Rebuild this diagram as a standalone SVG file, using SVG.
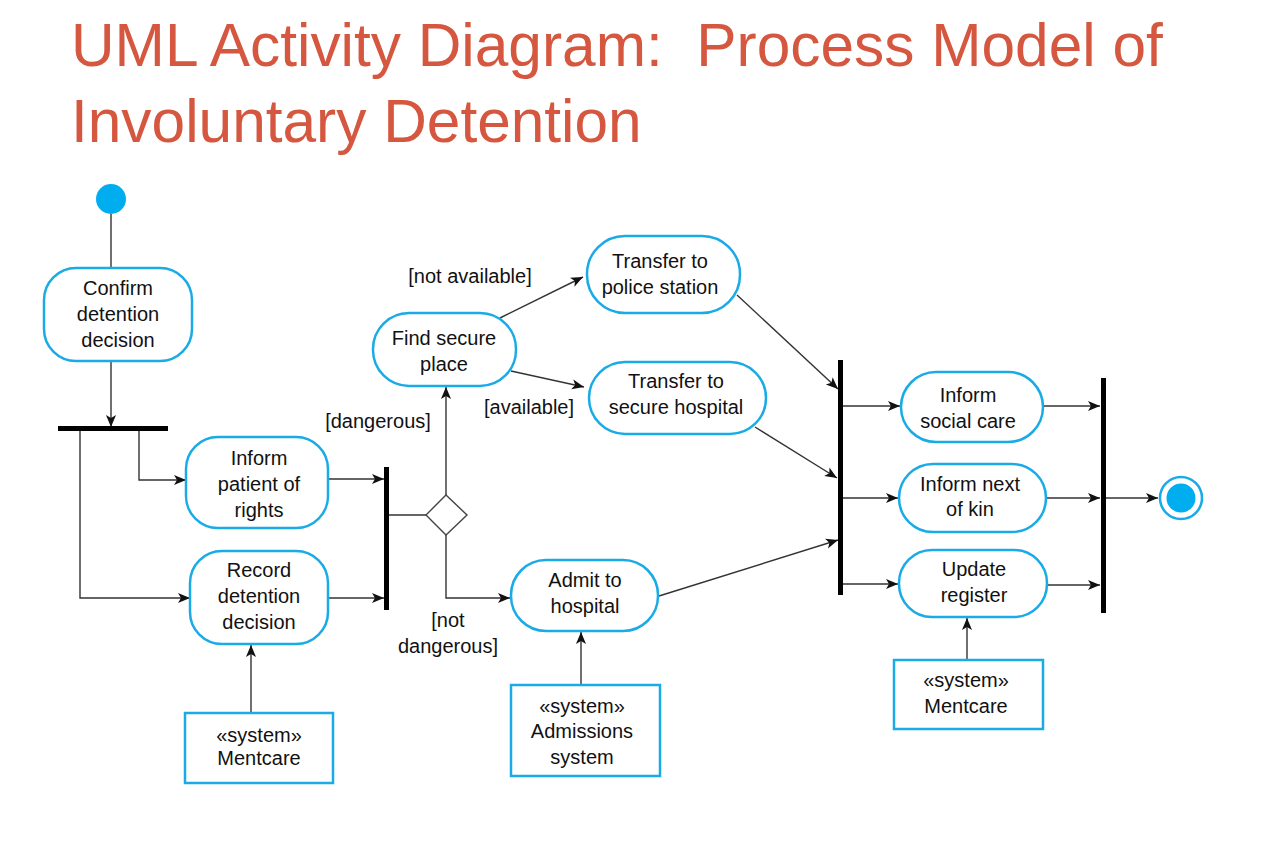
<svg xmlns="http://www.w3.org/2000/svg" width="1264" height="864" viewBox="0 0 1264 864">
<defs>
<marker id="arr" viewBox="0 0 10 10" refX="10" refY="5" markerWidth="12" markerHeight="12" markerUnits="userSpaceOnUse" orient="auto">
<path d="M0,0.8 L10,5 L0,9.2 L2.5,5 z" fill="#111"/>
</marker>
<style>
.title{font-family:"Liberation Sans",Arial,sans-serif;font-size:60.4px;fill:#D5573F;white-space:pre}
.act{fill:#fff;stroke:#1AABE6;stroke-width:2.5}
.t{font-family:"Liberation Sans",Arial,sans-serif;font-size:20px;fill:#111;text-anchor:middle}
.c{fill:none;stroke:#333;stroke-width:1.4}
.ca{fill:none;stroke:#333;stroke-width:1.4;marker-end:url(#arr)}
.bar{fill:#000}
</style>
</defs>
<rect width="1264" height="864" fill="#fff"/>
<text class="title" x="71" y="66">UML Activity Diagram:  Process Model of</text>
<text class="title" x="71" y="142">Involuntary Detention</text>

<g id="connectors">
<line class="c" x1="111" y1="214" x2="111" y2="268"/>
<line class="ca" x1="111" y1="361" x2="111" y2="427"/>
<polyline class="ca" points="139,431 139,480 186,480"/>
<polyline class="ca" points="80,431 80,598 190,598"/>
<line class="ca" x1="251" y1="713" x2="251" y2="645"/>
<line class="ca" x1="328" y1="479" x2="384" y2="479"/>
<line class="ca" x1="328" y1="598" x2="384" y2="598"/>
<line class="c" x1="388" y1="515" x2="426" y2="515"/>
<line class="ca" x1="446" y1="495" x2="446" y2="387"/>
<polyline class="ca" points="446,535 446,598 510,598"/>
<line class="ca" x1="581" y1="685" x2="581" y2="632"/>
<line class="ca" x1="500" y1="318" x2="583" y2="277"/>
<line class="ca" x1="511" y1="371" x2="584" y2="387"/>
<line class="ca" x1="737" y1="295" x2="838" y2="389"/>
<line class="ca" x1="755" y1="427" x2="837" y2="478"/>
<line class="ca" x1="659" y1="596" x2="838" y2="540"/>
<line class="ca" x1="842" y1="406" x2="900" y2="406"/>
<line class="ca" x1="842" y1="498" x2="898" y2="498"/>
<line class="ca" x1="842" y1="584" x2="898" y2="584"/>
<line class="ca" x1="1043" y1="406" x2="1100" y2="406"/>
<line class="ca" x1="1046" y1="498" x2="1100" y2="498"/>
<line class="ca" x1="1047" y1="585" x2="1100" y2="585"/>
<line class="ca" x1="1105" y1="498" x2="1158" y2="498"/>
<line class="ca" x1="967" y1="660" x2="967" y2="618"/>
</g>

<g id="start"><circle cx="111" cy="199" r="15" fill="#00AEEF"/></g>

<g id="confirm">
<rect class="act" x="44" y="268" width="148" height="93" rx="32"/>
<text class="t" x="118" y="295">Confirm</text>
<text class="t" x="118" y="321">detention</text>
<text class="t" x="118" y="347">decision</text>
</g>

<g id="fork1"><rect class="bar" x="58" y="426" width="110" height="5"/></g>

<g id="inform-rights">
<rect class="act" x="186" y="437" width="142" height="91" rx="32"/>
<text class="t" x="259" y="465">Inform</text>
<text class="t" x="259" y="491">patient of</text>
<text class="t" x="259" y="517">rights</text>
</g>

<g id="record">
<rect class="act" x="190" y="551" width="138" height="93" rx="32"/>
<text class="t" x="259" y="577">Record</text>
<text class="t" x="259" y="603">detention</text>
<text class="t" x="259" y="629">decision</text>
</g>

<g id="mentcare1">
<rect class="act" x="185" y="713" width="148" height="70"/>
<text class="t" x="259" y="742">«system»</text>
<text class="t" x="259" y="765">Mentcare</text>
</g>

<g id="join1"><rect class="bar" x="384" y="467" width="5" height="143"/></g>

<g id="decision"><polygon points="446,495 467,515 446,535 426,515" fill="#fff" stroke="#444" stroke-width="1.4"/></g>

<g id="labels">
<text class="t" x="378" y="428">[dangerous]</text>
<text class="t" x="448" y="627">[not</text>
<text class="t" x="448" y="653">dangerous]</text>
<text class="t" x="470" y="283">[not available]</text>
<text class="t" x="529" y="414">[available]</text>
</g>

<g id="find">
<rect class="act" x="373" y="313" width="143" height="73" rx="36"/>
<text class="t" x="444" y="345">Find secure</text>
<text class="t" x="444" y="371">place</text>
</g>

<g id="police">
<rect class="act" x="587" y="236" width="153" height="77" rx="38"/>
<text class="t" x="660" y="268">Transfer to</text>
<text class="t" x="660" y="294">police station</text>
</g>

<g id="secure-hospital">
<rect class="act" x="589" y="362" width="177" height="72" rx="36"/>
<text class="t" x="676" y="388">Transfer to</text>
<text class="t" x="676" y="414">secure hospital</text>
</g>

<g id="admit">
<rect class="act" x="511" y="560" width="147" height="71" rx="35"/>
<text class="t" x="585" y="587">Admit to</text>
<text class="t" x="585" y="613">hospital</text>
</g>

<g id="admissions">
<rect class="act" x="511" y="685" width="149" height="91"/>
<text class="t" x="582" y="713">«system»</text>
<text class="t" x="582" y="738">Admissions</text>
<text class="t" x="582" y="764">system</text>
</g>

<g id="fork2"><rect class="bar" x="838" y="360" width="5" height="235"/></g>

<g id="social">
<rect class="act" x="901" y="372" width="142" height="70" rx="35"/>
<text class="t" x="968" y="402">Inform</text>
<text class="t" x="968" y="428">social care</text>
</g>

<g id="kin">
<rect class="act" x="899" y="464" width="147" height="68" rx="34"/>
<text class="t" x="970" y="491">Inform next</text>
<text class="t" x="970" y="516">of kin</text>
</g>

<g id="update">
<rect class="act" x="899" y="550" width="148" height="67" rx="33"/>
<text class="t" x="974" y="576">Update</text>
<text class="t" x="974" y="602">register</text>
</g>

<g id="mentcare2">
<rect class="act" x="894" y="660" width="149" height="69"/>
<text class="t" x="966" y="687">«system»</text>
<text class="t" x="966" y="713">Mentcare</text>
</g>

<g id="join2"><rect class="bar" x="1101" y="378" width="5" height="235"/></g>

<g id="final">
<circle cx="1181" cy="498" r="21" fill="#fff" stroke="#1AABE6" stroke-width="2.5"/>
<circle cx="1181" cy="498" r="14.5" fill="#00AEEF"/>
</g>
</svg>
